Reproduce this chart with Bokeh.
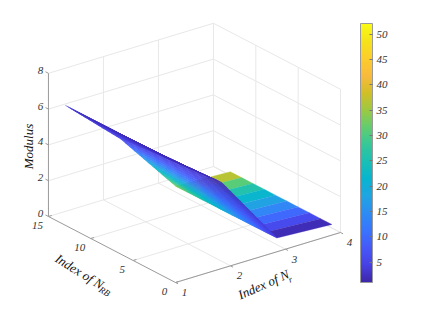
from bokeh.embed import file_html
from bokeh.resources import INLINE
from bokeh.plotting import figure
from bokeh.models import ColorBar, LinearColorMapper, FixedTicker
from bokeh.core.properties import value
import math

# ---- data ----
nr_values = [1, 2, 3, 4]
nrb_values = [1, 2.33, 3.67, 5, 6.33, 7.67, 9, 10.33, 11.67, 13]
modulus_nr1 = [6.7, 6.7, 6.7, 6.7, 6.7, 6.7, 6.7, 6.7, 6.7, 6.7]
modulus_nr2 = [4.4, 4.35, 4.3, 4.25, 4.2, 4.15, 4.1, 4.05, 4.0, 3.9]
modulus_nr3 = [0.38, 0.37, 0.36, 0.36, 0.35, 0.35, 0.35, 0.34, 0.34, 0.33]
modulus_nr4 = [0.2, 0.2, 0.2, 0.2, 0.2, 0.2, 0.2, 0.2, 0.2, 0.2]
colour_nr1 = [2, 2, 2, 2, 2, 2, 2, 2, 3, 4]
colour_nr2 = [2, 2.5, 3, 3, 3.5, 3.5, 4, 4, 4.5, 5]
colour_nr3 = [4, 8, 12, 15, 19, 22, 25, 28, 31, 34]
colour_nr4 = [2, 6, 10, 14, 18, 22, 26, 31, 37, 40]
z_ticks = [0, 2, 4, 6, 8]
nr_ticks = [1, 2, 3, 4]
nrb_ticks = [0, 5, 10, 15]
cbar_ticks = [5, 10, 15, 20, 25, 30, 35, 40, 45, 50]
cbar_low, cbar_high = 1.0, 52.1
parula_anchors = [
    (0.2422, 0.1504, 0.6603), (0.2783, 0.2559, 0.8991), (0.2795, 0.3447, 0.9717),
    (0.2206, 0.4603, 0.9973), (0.1764, 0.5499, 0.9520), (0.1248, 0.6459, 0.8883),
    (0.0297, 0.7082, 0.8163), (0.0964, 0.7500, 0.7120), (0.2161, 0.7843, 0.5923),
    (0.3909, 0.8029, 0.4354), (0.6174, 0.7876, 0.2612), (0.8203, 0.7498, 0.1535),
    (0.9728, 0.7298, 0.2394), (0.9892, 0.8082, 0.1717), (0.9597, 0.8929, 0.1000),
    (0.9769, 0.9839, 0.0805),
]

modulus = [modulus_nr1, modulus_nr2, modulus_nr3, modulus_nr4]
colour = [colour_nr1, colour_nr2, colour_nr3, colour_nr4]

palette = []
for i in range(256):
    t = i / 255 * (len(parula_anchors) - 1)
    k = min(int(t), len(parula_anchors) - 2)
    f = t - k
    rgb = [parula_anchors[k][c] * (1 - f) + parula_anchors[k + 1][c] * f for c in range(3)]
    palette.append("#%02x%02x%02x" % tuple(int(round(v * 255)) for v in rgb))


def colour_of(v):
    t = (v - cbar_low) / (cbar_high - cbar_low)
    return palette[max(0, min(255, int(t * 255)))]


def sx(nr, nrb, z=0.0):
    return 175 + (nr - 1) * 55.0 - nrb * 8.47


def sy(nr, nrb, z=0.0):
    return 282 - (nr - 1) * 16.67 - nrb * 4.4 - z * 17.9


p = figure(width=415, height=309, x_range=(0, 415), y_range=(309, 0),
           output_backend="svg", toolbar_location=None, min_border=0,
           outline_line_color=None)
p.axis.visible = False
p.grid.visible = False


def line3d(a, b, color, width=1.0):
    p.line([sx(*a), sx(*b)], [sy(*a), sy(*b)], line_color=color, line_width=width)


GRID = "#e8e8e8"
NR0, NR1 = nr_ticks[0], nr_ticks[-1]
B0, B1 = nrb_ticks[0], nrb_ticks[-1]
Z0, Z1 = z_ticks[0], z_ticks[-1]

for z in z_ticks:
    line3d((NR0, B1, z), (NR1, B1, z), GRID)
    line3d((NR1, B1, z), (NR1, B0, z), GRID)
for nr in nr_ticks[1:]:
    line3d((nr, B1, Z0), (nr, B1, Z1), GRID)
    line3d((nr, B0, Z0), (nr, B1, Z0), GRID)
for b in nrb_ticks[:-1]:
    line3d((NR1, b, Z0), (NR1, b, Z1), GRID)
    line3d((NR0, b, Z0), (NR1, b, Z0), GRID)

AXIS = "#9a9a9a"
line3d((NR0, B1, Z0), (NR0, B1, Z1), AXIS)
line3d((NR0, B0, Z0), (NR0, B1, Z0), AXIS)
line3d((NR0, B0, Z0), (NR1, B0, Z0), AXIS)
for z in z_ticks:
    line3d((NR0, B1, z), (NR0, B1 + 0.35, z), AXIS)
for b in nrb_ticks:
    line3d((NR0, b, Z0), (NR0 + 0.06, b, Z0), AXIS)
for nr in nr_ticks:
    line3d((nr, B0, Z0), (nr, B0 - 0.3, Z0), AXIS)

# surface, back to front
xs, ys, cols = [], [], []
# nr 3-4: flat strips
for j in range(len(nrb_values) - 2, -1, -1):
    quad = [(3, j), (4, j), (4, j + 1), (3, j + 1)]
    xs.append([sx(n, nrb_values[m]) for n, m in quad])
    ys.append([sy(n, nrb_values[m], modulus[n - 1][m]) for n, m in quad])
    cols.append(colour_of(colour[3][j]))


def bilinear(tab, i, j, u, v):
    return ((1 - u) * (1 - v) * tab[i][j] + u * (1 - v) * tab[i + 1][j]
            + (1 - u) * v * tab[i][j + 1] + u * v * tab[i + 1][j + 1])


NSUB_R, NSUB_B = 12, 5
for i in (1, 0):
    for j in range(len(nrb_values) - 2, -1, -1):
        for a in range(NSUB_R - 1, -1, -1):
            for b in range(NSUB_B - 1, -1, -1):
                corners = [(a, b), (a + 1, b), (a + 1, b + 1), (a, b + 1)]
                qx, qy = [], []
                for ca, cb in corners:
                    u, v = ca / NSUB_R, cb / NSUB_B
                    nr = nr_values[i] + u
                    nb = nrb_values[j] + v * (nrb_values[j + 1] - nrb_values[j])
                    z = bilinear(modulus, i, j, u, v)
                    qx.append(sx(nr, nb))
                    qy.append(sy(nr, nb, z))
                xs.append(qx)
                ys.append(qy)
                cols.append(colour_of(bilinear(colour, i, j, (a + .5) / NSUB_R, (b + .5) / NSUB_B)))

p.patches(xs, ys, fill_color=cols, line_color=cols, line_width=0.3)

# texts
FONT = value("Liberation Serif")
TXT = "#333333"


def label(x, y, s, size="11px", angle=0.0, color=TXT, align="center"):
    p.text([x], [y], text=[s], text_font=FONT, text_font_style="italic",
           text_font_size=size, text_color=color, text_align=align,
           text_baseline="middle", angle=math.radians(angle))


for z in z_ticks:
    label(sx(NR0, B1) - 8, sy(NR0, B1, z) - 3, str(z))
for b in nrb_ticks:
    label(sx(NR0, b) - 11, sy(NR0, b) + 8.5, str(b))
for nr in nr_ticks:
    label(sx(nr, B0) + 9, sy(nr, B0) + 10, str(nr))

label(28, 146, "Modulus", size="13px", angle=90, color="#111111")
label(79, 271, "Index of N", size="13px", angle=-32, color="#111111")
label(104, 291, "RB", size="9px", angle=-32, color="#111111")
label(263, 284, "Index of N", size="13px", angle=24, color="#111111")
label(290, 279, "r", size="9px", angle=24, color="#111111")

mapper = LinearColorMapper(palette=palette, low=cbar_low, high=cbar_high)
cb = ColorBar(color_mapper=mapper, ticker=FixedTicker(ticks=cbar_ticks),
              location=(360, 27), width=12, height=259, padding=0, margin=0,
              major_tick_in=3, major_tick_out=0, major_tick_line_color="#777777",
              minor_tick_line_color=None, bar_line_color="#9a9a9a",
              major_label_text_font="Liberation Serif",
              major_label_text_font_style="italic",
              major_label_text_font_size="11px",
              major_label_text_color=TXT, label_standoff=4,
              background_fill_alpha=0, border_line_color=None)
p.add_layout(cb, "center")

open("out.html", "w").write(file_html(p, INLINE))
